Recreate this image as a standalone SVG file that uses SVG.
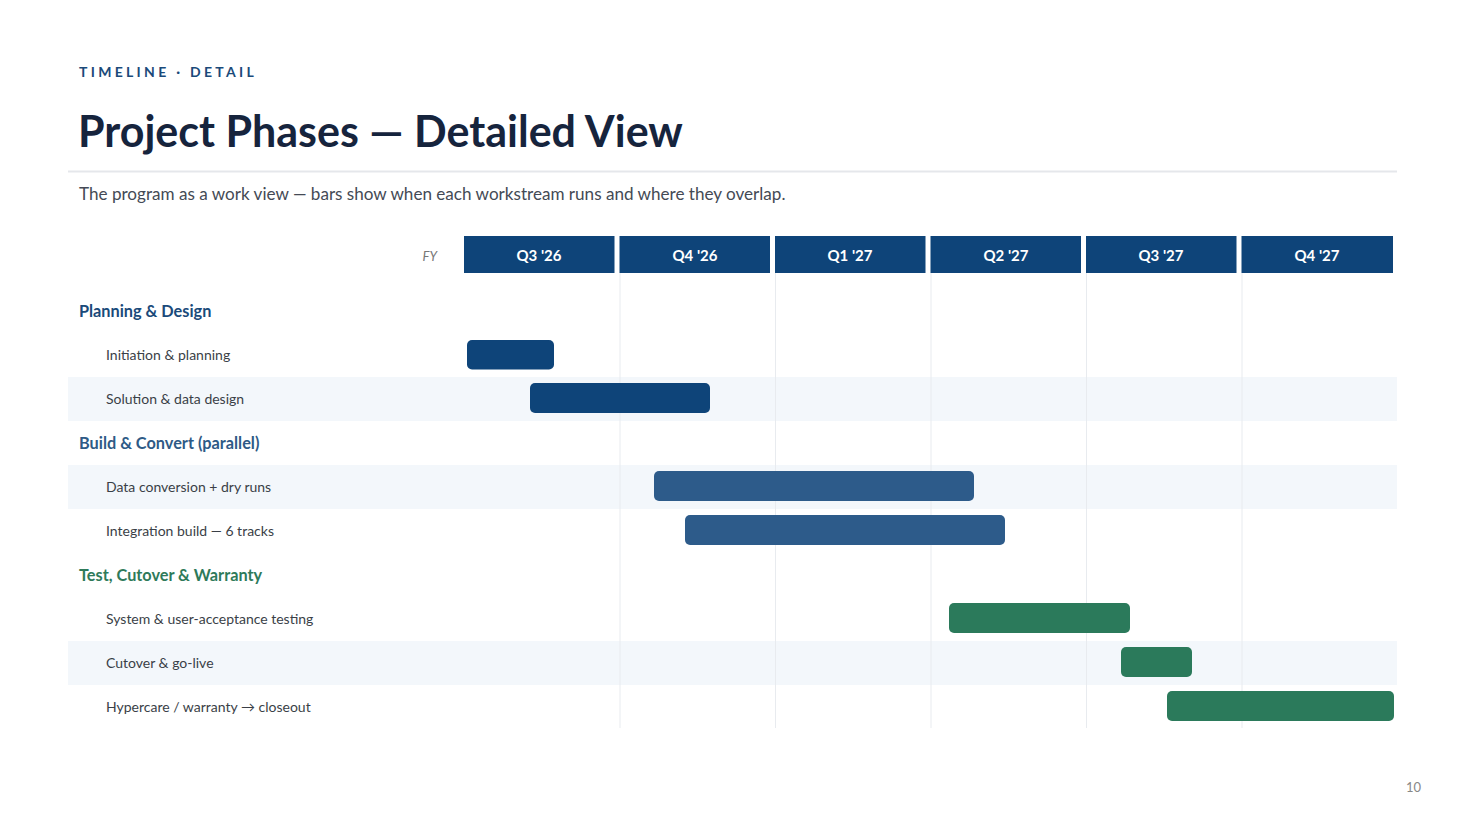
<svg xmlns="http://www.w3.org/2000/svg" width="1466" height="825" viewBox="0 0 1466 825">
<style>
text{font-family:Lato,"Noto Sans","Liberation Sans",sans-serif}
.eyebrow{font-size:14px;font-weight:700;fill:#1a4a7a;letter-spacing:3.3px}
.title{font-size:43px;font-weight:700;fill:#16243d}
.sub{font-size:17.1px;fill:#444a55}
.hdr{fill:#0e4479}
.hdrt{font-size:15px;font-weight:700;fill:#fff;text-anchor:middle}
.fy{font-size:13px;font-style:italic;fill:#777;text-anchor:end}
.grid{stroke:#e8ebef;stroke-width:1}
.band{fill:#f3f7fb}
.grp{font-size:16.3px;font-weight:700}
.lbl{font-size:14px;fill:#3a3f47}
.b1{fill:#0e4479}
.b2{fill:#2d5b8a}
.b3{fill:#2b7a5b}
.pg{font-size:13px;fill:#888;text-anchor:end}
</style>
<rect width="1466" height="825" fill="#fff"/>
<text class="eyebrow" x="79" y="77">TIMELINE · DETAIL</text>
<text class="title" x="78" y="147">Project Phases — Detailed View</text>
<line x1="68" y1="171.5" x2="1397" y2="171.5" stroke="#e5e7eb" stroke-width="2"/>
<text class="sub" x="79" y="200">The program as a work view — bars show when each workstream runs and where they overlap.</text>

<g id="bands">
<rect class="band" x="68" y="377" width="1329" height="44"/>
<rect class="band" x="68" y="465" width="1329" height="44"/>
<rect class="band" x="68" y="641" width="1329" height="44"/>
</g>
<g id="grid">
<line class="grid" x1="620" y1="273" x2="620" y2="728"/>
<line class="grid" x1="775.5" y1="273" x2="775.5" y2="728"/>
<line class="grid" x1="931" y1="273" x2="931" y2="728"/>
<line class="grid" x1="1086.5" y1="273" x2="1086.5" y2="728"/>
<line class="grid" x1="1242" y1="273" x2="1242" y2="728"/>
</g>
<g id="header">
<text class="fy" x="437" y="261">FY</text>
<rect class="hdr" x="464" y="236" width="150.5" height="37"/>
<rect class="hdr" x="619.5" y="236" width="150.5" height="37"/>
<rect class="hdr" x="775" y="236" width="150.5" height="37"/>
<rect class="hdr" x="930.5" y="236" width="150.5" height="37"/>
<rect class="hdr" x="1086" y="236" width="150.5" height="37"/>
<rect class="hdr" x="1241.5" y="236" width="151.5" height="37"/>
<text class="hdrt" x="539" y="261">Q3 '26</text>
<text class="hdrt" x="695" y="261">Q4 '26</text>
<text class="hdrt" x="850" y="261">Q1 '27</text>
<text class="hdrt" x="1006" y="261">Q2 '27</text>
<text class="hdrt" x="1161" y="261">Q3 '27</text>
<text class="hdrt" x="1317" y="261">Q4 '27</text>
</g>
<g id="group-planning">
<text class="grp" x="79" y="317" fill="#1a4a7a">Planning &amp; Design</text>
</g>
<g id="row-initiation">
<text class="lbl" x="106" y="360">Initiation &amp; planning</text>
<rect class="b1" x="467" y="340" width="87" height="29.5" rx="5"/>
</g>
<g id="row-solution">
<text class="lbl" x="106" y="404">Solution &amp; data design</text>
<rect class="b1" x="530" y="383" width="180" height="30" rx="5"/>
</g>
<g id="group-build">
<text class="grp" x="79" y="449" fill="#2e5a86">Build &amp; Convert (parallel)</text>
</g>
<g id="row-conversion">
<text class="lbl" x="106" y="492">Data conversion + dry runs</text>
<rect class="b2" x="654" y="471" width="320" height="30" rx="5"/>
</g>
<g id="row-integration">
<text class="lbl" x="106" y="536">Integration build — 6 tracks</text>
<rect class="b2" x="685" y="515" width="320" height="30" rx="5"/>
</g>
<g id="group-test">
<text class="grp" x="79" y="581" fill="#2e7a5a">Test, Cutover &amp; Warranty</text>
</g>
<g id="row-testing">
<text class="lbl" x="106" y="624">System &amp; user-acceptance testing</text>
<rect class="b3" x="949" y="603" width="181" height="30" rx="5"/>
</g>
<g id="row-cutover">
<text class="lbl" x="106" y="668">Cutover &amp; go-live</text>
<rect class="b3" x="1121" y="647" width="71" height="30" rx="5"/>
</g>
<g id="row-hypercare">
<text class="lbl" x="106" y="712">Hypercare / warranty → closeout</text>
<rect class="b3" x="1167" y="691" width="227" height="30" rx="5"/>
</g>
<g id="connectors"></g>
<text class="pg" x="1421" y="792">10</text>
</svg>
